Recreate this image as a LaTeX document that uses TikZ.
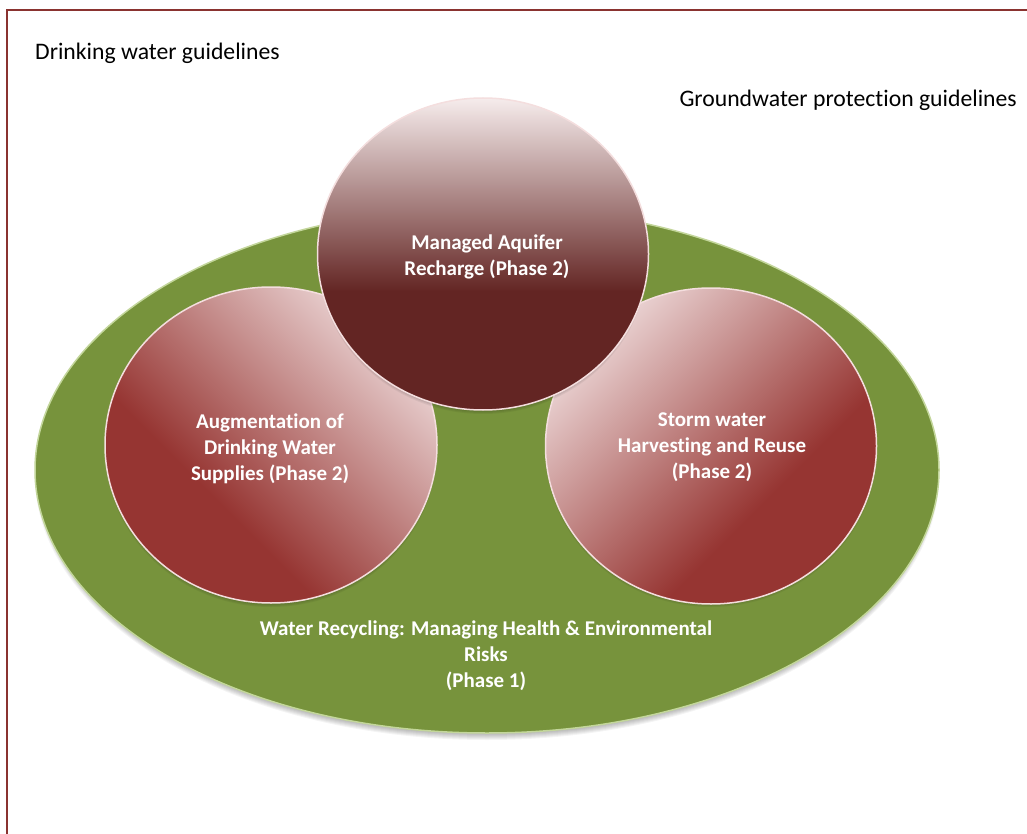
\documentclass[tikz,border=0pt]{standalone}
\usepackage{fontspec}
\setmainfont{Carlito}[Ligatures=NoCommon]
\definecolor{framecol}{HTML}{8A3330}
\definecolor{greenfill}{HTML}{77933C}
\definecolor{greenline}{HTML}{C3D69B}
\definecolor{dkred}{HTML}{632523}
\definecolor{redball}{HTML}{963532}
\definecolor{ltpink}{HTML}{F6ECEC}
\definecolor{ltpinkb}{HTML}{EEDADA}
\definecolor{ballline}{HTML}{F4DEDE}
\pgfdeclareverticalshading{topball}{100bp}{color(0bp)=(dkred); color(44bp)=(dkred); color(75bp)=(ltpink); color(100bp)=(ltpink)}
\pgfdeclareverticalshading{sideball}{100bp}{color(0bp)=(redball); color(38bp)=(redball); color(76bp)=(ltpinkb); color(100bp)=(ltpinkb)}
\begin{document}
\begin{tikzpicture}[x=1pt,y=-1pt,
  lbl/.style={font=\fontsize{21}{26}\selectfont\bfseries, text=white, align=center, inner sep=0pt},
  plain/.style={font=\fontsize{23.7}{28}\selectfont, text=black, inner sep=0pt},
  ball/.style={draw=ballline, line width=1.5pt},
  frame/.style={draw=framecol, line width=1.5pt}]
\useasboundingbox (0,0) rectangle (1027,834);
\fill[white] (0,0) rectangle (1027,834);
\draw[frame] (7,834) -- (7,10) -- (1027,10);

% green ellipse shadow
\foreach \k in {0,...,6}
  \fill[black, opacity=0.045] (487,476) ellipse [x radius={446pt+\k pt}, y radius={258pt+\k pt}];
% green ellipse
\fill[greenfill] (487,470) ellipse [x radius=452pt, y radius=263pt];
\draw[greenline, line width=1.5pt] (487,470) ellipse [x radius=452pt, y radius=263pt];

% left and right circle shadows
\foreach \k in {0,...,4} {
  \fill[black, opacity=0.05] (271,449) ellipse [x radius={162pt+\k pt}, y radius={154pt+\k pt}];
  \fill[black, opacity=0.05] (711,449) ellipse [x radius={162pt+\k pt}, y radius={154pt+\k pt}];
}
% left circle
\shade[shading=sideball, shading angle=-45] (271,445) ellipse [x radius=166pt, y radius=158pt];
\draw[ball] (271,445) ellipse [x radius=166pt, y radius=158pt];
% right circle
\shade[shading=sideball, shading angle=45] (711,446) ellipse [x radius=165.5pt, y radius=158pt];
\draw[ball] (711,446) ellipse [x radius=165.5pt, y radius=158pt];

% top circle shadow
\foreach \k in {0,...,4}
  \fill[black, opacity=0.05] (483,258) ellipse [x radius={161pt+\k pt}, y radius={152pt+\k pt}];
% top circle
\shade[shading=topball] (483,254) ellipse [x radius=165.5pt, y radius=156pt];
\draw[ball] (483,254) ellipse [x radius=165.5pt, y radius=156pt];

% texts
\node[plain, anchor=base west] (dw) at (35,60) {Drinking water guidelines};
\node[plain, anchor=base east] (gw) at (1017,107) {Groundwater protection guidelines};
\node[lbl] (mar) at (487,257) {Managed Aquifer\\Recharge (Phase 2)};
\node[lbl] (adw) at (270,448.5) {Augmentation of\\Drinking Water\\Supplies (Phase 2)};
\node[lbl] (sw) at (712,447.5) {Storm water\\Harvesting and Reuse\\(Phase 2)};
\node[lbl] (wr) at (486,656) {Water Recycling: Managing Health \& Environmental\\Risks\\(Phase 1)};
\end{tikzpicture}
\end{document}
